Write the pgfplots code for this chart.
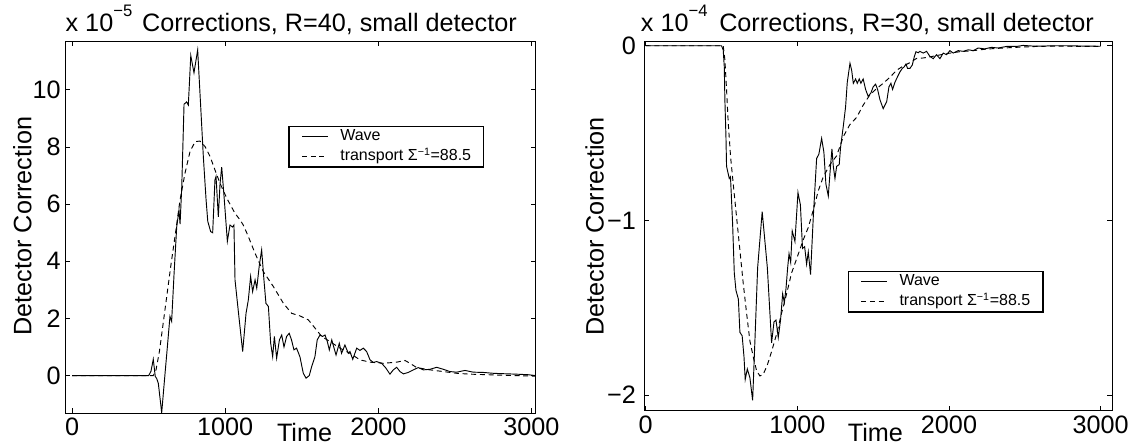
\documentclass[border=0pt]{standalone}
\usepackage{fontspec}
\setmainfont{Liberation Sans}
\usepackage{pgfplots}
\pgfplotsset{compat=1.18}

\newcommand\bigf{\fontsize{18.9}{22}\selectfont}
\newcommand\legf{\fontsize{12}{14}\selectfont}

\pgfplotsset{
  panel/.style={
    scale only axis, anchor=south west,
    axis line style={black,line width=0.75pt},
    tick style={black,line width=0.75pt},
    tick align=inside, major tick length=3.5pt,
    xtick pos=both, ytick pos=both,
    xticklabel pos=lower, yticklabel pos=left,
    tick label style={font=\bigf},
    /pgf/number format/assume math mode=true,
    scaled ticks=false, clip=true,
    xtick={0,1000,2000,3000}, xticklabels={0,1000,2000,3000},
    legend cell align=left,
    legend image code/.code={\draw[##1] (0pt,0pt) -- (19.3pt,0pt);},
    legend style={draw=black, line width=1pt, fill=white, font=\legf,
      anchor=north west, inner xsep=9.5pt, inner ysep=2.2pt,
      column sep=9pt, row sep=4pt,
      nodes={inner sep=0pt, text height=0.85em, text depth=0.25em}},
  },
  wave/.style={black, line width=0.7pt, no marks},
  trans/.style={black, line width=0.7pt, no marks, dash pattern=on 3.75pt off 2.75pt},
}

\begin{document}
\begin{tikzpicture}
\useasboundingbox (0pt,0pt) rectangle (846pt,335.25pt);

% left panel: R=40
\begin{axis}[panel, at={(49.05pt,25.5pt)}, width=352.7pt, height=278.5pt,
  xmin=-44, xmax=3028, ymin=-1.31, ymax=11.69,
  ytick={0,2,4,6,8,10},
  legend style={at={(0.474,0.773)}}]
\addplot[wave] coordinates {
(0,0) (500,0) (515,0.15) (530,0.57) (543,-0.03) (552,-0.1) (563,-0.27) (585,-1.3)
(607,0.08) (622,1.0) (639,2.07) (650,1.9) (666,3.58) (683,5.2) (698,5.8) (705,5.3)
(716,6.6) (731,9.5) (748,9.58) (759,9.47) (775,11.2) (796,10.6) (820,11.4) (840,9.4)
(857,7.67) (875,6.15) (886,5.4) (905,5.04) (918,5.0) (933,6.85) (940,6.97) (955,5.56)
(966,6.7) (977,7.3) (992,6.3) (1014,4.7) (1031,5.27) (1048,5.2) (1057,5.27) (1064,3.35)
(1087,2.18) (1114,0.84) (1136,2.18) (1151,2.65) (1166,3.47) (1179,2.94) (1195,3.35)
(1206,3.06) (1223,3.87) (1238,4.4) (1253,3.35) (1266,2.53) (1282,2.42) (1297,1.13)
(1310,0.66) (1321,1.37) (1336,0.61) (1354,1.25) (1369,1.42) (1384,1.0) (1401,1.37)
(1418,1.48) (1433,1.25) (1449,0.9) (1466,0.96) (1488,0.66) (1510,0.08) (1528,-0.09)
(1549,0.0) (1565,0.32) (1586,0.66) (1601,1.25) (1619,1.42) (1636,1.37) (1652,1.42)
(1667,1.19) (1680,0.9) (1696,1.25) (1711,0.96) (1724,0.72) (1745,1.13) (1760,0.78)
(1782,1.07) (1804,0.78) (1815,0.84) (1833,0.57) (1859,0.96) (1880,0.88) (1902,0.96)
(1924,0.84) (1946,0.55) (1967,0.46) (1989,0.49) (2022,0.43) (2050,0.26) (2076,0.05)
(2098,0.2) (2120,0.29) (2142,0.14) (2164,0.06) (2196,0.11) (2229,0.2) (2261,0.28)
(2294,0.2) (2338,0.22) (2381,0.29) (2425,0.22) (2468,0.14) (2512,0.12) (2566,0.18)
(2620,0.12) (2686,0.11) (2751,0.08) (2795,0.07) (2900,0.05) (2980,0.03) (3028,0.0)
};
\addlegendentry{Wave}
\addplot[trans] coordinates {
(0,0) (530,0) (548,0.2) (570,0.84) (592,1.72) (618,2.77) (644,3.82) (672,4.87)
(705,6.15) (737,7.08) (770,7.84) (803,8.19) (835,8.21) (868,8.02) (901,7.67) (933,7.2)
(966,6.73) (1010,6.21) (1064,5.68) (1097,5.45) (1118,5.27) (1151,4.87) (1195,4.28)
(1249,3.64) (1314,3.12) (1380,2.53) (1434,2.18) (1488,2.09) (1543,1.95) (1587,1.66)
(1630,1.37) (1684,1.19) (1750,0.96) (1815,0.78) (1880,0.55) (1946,0.47) (2033,0.43)
(2120,0.47) (2174,0.53) (2207,0.43) (2251,0.28) (2338,0.2) (2425,0.14) (2512,0.08)
(2599,0.05) (2773,0.02) (2900,0.0) (3028,-0.02)
};
\addlegendentry{transport Σ\textsuperscript{−1}=88.5}
\end{axis}

% right panel: R=30
\begin{axis}[panel, at={(483.5pt,27.2pt)}, width=350.5pt, height=276.75pt,
  xmin=-7, xmax=3075, ymin=-2.089, ymax=0.023,
  ytick={-2,-1,0}, yticklabels={−2,−1,0},
  yticklabel style={xshift=-3pt},
  legend style={at={(0.434,0.379)}}]
\addplot[wave] coordinates {
(0,0) (500,0) (511,-0.025) (518,-0.12) (522,-0.31) (529,-0.52) (533,-0.69) (551,-0.76)
(559,-0.75) (573,-1.02) (584,-1.30) (595,-1.40) (611,-1.45) (621,-1.64) (636,-1.66)
(648,-1.78) (656,-1.91) (670,-1.85) (687,-1.90) (705,-2.03) (720,-1.69) (738,-1.27)
(753,-1.11) (768,-0.95) (785,-1.11) (802,-1.27) (815,-1.47) (830,-1.70) (846,-1.58)
(859,-1.57) (874,-1.67) (889,-1.57) (903,-1.42) (914,-1.47) (925,-1.39) (936,-1.27)
(945,-1.19) (956,-1.24) (966,-1.06) (984,-1.12) (1004,-0.84) (1020,-0.91) (1034,-1.16)
(1048,-1.15) (1061,-1.25) (1072,-1.18) (1087,-1.31) (1105,-0.98) (1127,-0.645)
(1142,-0.62) (1160,-0.53) (1175,-0.61) (1188,-0.79) (1204,-0.86) (1215,-0.73)
(1228,-0.59) (1237,-0.69) (1248,-0.76) (1259,-0.69) (1276,-0.68) (1285,-0.58)
(1303,-0.46) (1318,-0.35) (1329,-0.21) (1347,-0.10) (1358,-0.14) (1369,-0.215)
(1384,-0.19) (1395,-0.215) (1408,-0.19) (1419,-0.215) (1434,-0.19) (1450,-0.25)
(1467,-0.29) (1485,-0.27) (1500,-0.235) (1516,-0.22) (1529,-0.25) (1545,-0.31)
(1566,-0.36) (1589,-0.32) (1604,-0.235) (1617,-0.215) (1628,-0.25) (1643,-0.21)
(1659,-0.18) (1676,-0.15) (1692,-0.13) (1705,-0.12) (1716,-0.105) (1727,-0.13)
(1742,-0.13) (1758,-0.11) (1771,-0.063) (1782,-0.034) (1797,-0.04) (1808,-0.032)
(1830,-0.042) (1852,-0.032) (1874,-0.061) (1896,-0.074) (1918,-0.051) (1940,-0.074)
(1962,-0.042) (1984,-0.051) (2006,-0.028) (2028,-0.042) (2061,-0.028) (2094,-0.032)
(2127,-0.023) (2160,-0.028) (2192,-0.013) (2236,-0.018) (2280,-0.009) (2324,-0.013)
(2379,-0.004) (2445,-0.004) (2489,0.002) (2555,-0.002) (2621,-0.002) (2687,0.0)
(2770,0.0) (2900,-0.002) (3000,-0.003)
};
\addlegendentry{Wave}
\addplot[trans] coordinates {
(0,0) (511,0) (522,-0.08) (533,-0.25) (544,-0.44) (560,-0.64) (577,-0.79) (599,-0.98)
(621,-1.17) (643,-1.36) (665,-1.53) (687,-1.69) (709,-1.78) (731,-1.86) (753,-1.89)
(775,-1.88) (801,-1.83) (830,-1.75) (863,-1.65) (896,-1.53) (929,-1.42) (962,-1.30)
(995,-1.22) (1039,-1.11) (1072,-1.04) (1105,-0.94) (1138,-0.83) (1171,-0.75)
(1215,-0.68) (1259,-0.63) (1303,-0.52) (1347,-0.45) (1391,-0.41) (1434,-0.34)
(1479,-0.28) (1523,-0.245) (1566,-0.215) (1611,-0.18) (1655,-0.14) (1698,-0.116)
(1742,-0.097) (1787,-0.072) (1830,-0.07) (1896,-0.06) (1984,-0.045) (2072,-0.034)
(2160,-0.028) (2247,-0.019) (2357,-0.013) (2467,-0.008) (2577,-0.004) (2687,-0.002)
(2800,-0.003) (3000,-0.004)
};
\addlegendentry{transport Σ\textsuperscript{−1}=88.5}
\end{axis}

% titles, scale factors and axis labels
\node[anchor=base west, font=\bigf, inner sep=0pt] at (49.05pt,311.5pt)
  {x 10\raisebox{0.62em}{\fontsize{12.5}{13}\selectfont −5}};
\node[anchor=base west, font=\bigf, inner sep=0pt] at (106.35pt,311.5pt)
  {Corrections, R=40, small detector};
\node[font=\bigf, rotate=90, inner sep=0pt] at (16.7pt,165.75pt) {Detector Correction};
\node[anchor=base, font=\bigf, inner sep=0pt] at (228.4pt,4.2pt) {Time};

\node[anchor=base west, font=\bigf, inner sep=0pt] at (480.5pt,311.5pt)
  {x 10\raisebox{0.62em}{\fontsize{12.5}{13}\selectfont −4}};
\node[anchor=base west, font=\bigf, inner sep=0pt] at (539.25pt,311.5pt)
  {Corrections, R=30, small detector};
\node[font=\bigf, rotate=90, inner sep=0pt] at (445.9pt,165.4pt) {Detector Correction};
\node[anchor=base, font=\bigf, inner sep=0pt] at (656.5pt,4.2pt) {Time};
\end{tikzpicture}
\end{document}
